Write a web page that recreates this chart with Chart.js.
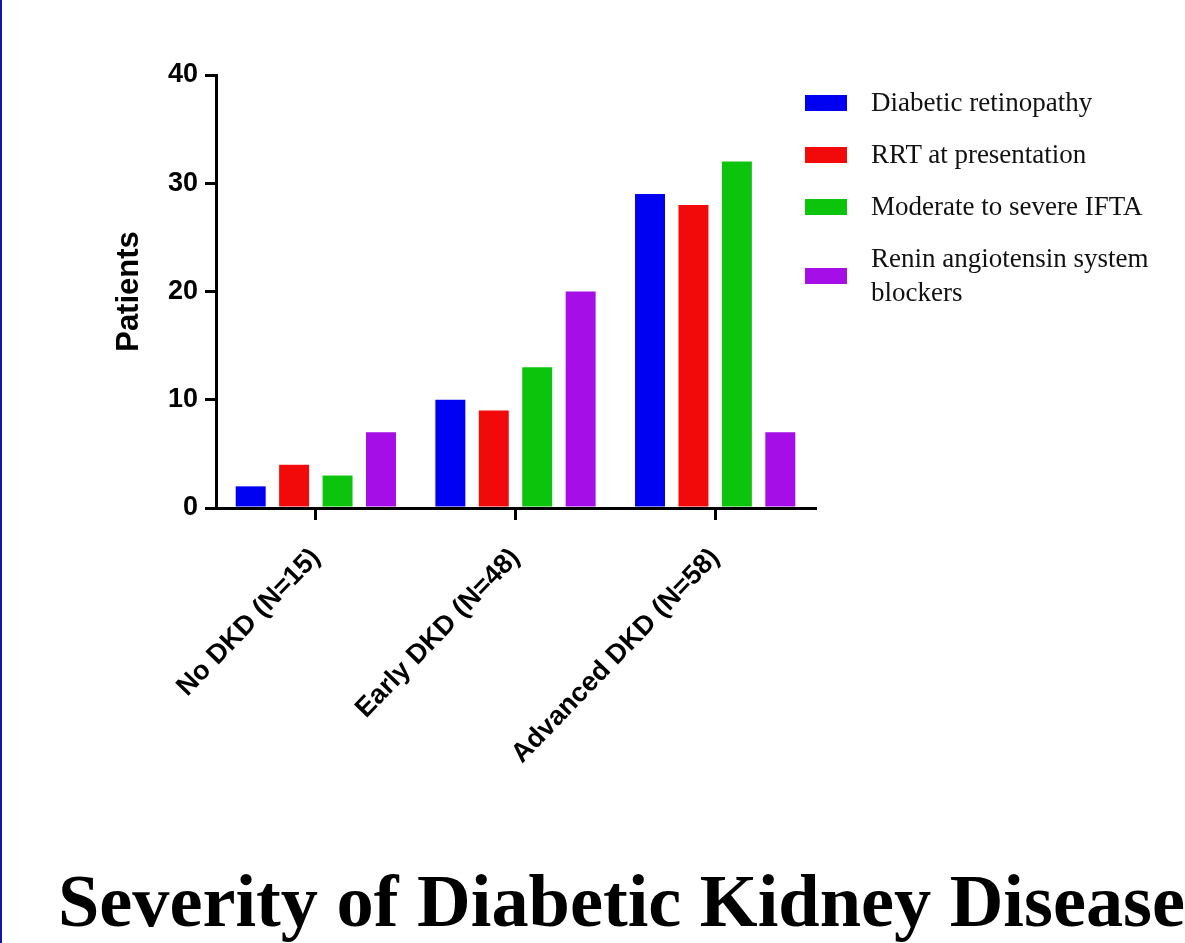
<!DOCTYPE html>
<html>
<head>
<meta charset="utf-8">
<script src="https://cdn.jsdelivr.net/npm/chart.js@4/dist/chart.umd.min.js"></script>
<style>
  html, body { margin: 0; padding: 0; background: #ffffff; }
  body { width: 1185px; height: 943px; position: relative; overflow: hidden; }
  #border { position: absolute; left: 0; top: 0; width: 2px; height: 943px; background: #1515a5; }
  #wrap { position: absolute; left: 0; top: 0; width: 1185px; height: 943px; }
  #legend { position: absolute; left: 805px; top: 92px; font-family: "Liberation Serif", "Times New Roman", serif; font-size: 27px; color: #111; }
  .item { position: relative; height: 52px; }
  .box { position: absolute; left: 0; width: 42px; height: 16px; }
  .lbl { position: absolute; left: 66px; white-space: nowrap; line-height: 34px; }
  #title { position: absolute; left: 58px; top: 861px; font-family: "Liberation Serif", "Times New Roman", serif; font-weight: bold; font-size: 75px; line-height: 80px; color: #000; white-space: nowrap; transform-origin: 0 0; }
</style>
</head>
<body>
<div id="wrap"><canvas id="c" width="1185" height="943"></canvas></div>
<div id="border"></div>
<div id="legend"></div>
<div id="title">Severity of Diabetic Kidney Disease</div>
<script>
const categories = ["No DKD (N=15)", "Early DKD (N=48)", "Advanced DKD (N=58)"];
const seriesNames = ["Diabetic retinopathy", "RRT at presentation", "Moderate to severe IFTA", ["Renin angiotensin system", "blockers"]];
const diabeticRetinopathy = [2, 10, 29];
const rrtAtPresentation = [4, 9, 28];
const moderateSevereIFTA = [3, 13, 32];
const rasBlockers = [7, 20, 7];
const yTicks = [0, 10, 20, 30, 40];
const colors = ["#0000f2", "#f20a0a", "#0cc40c", "#a50ee6"];

const seriesValues = [diabeticRetinopathy, rrtAtPresentation, moderateSevereIFTA, rasBlockers];

const datasets = seriesValues.map((vals, i) => ({
  label: Array.isArray(seriesNames[i]) ? seriesNames[i].join(' ') : seriesNames[i],
  data: vals,
  backgroundColor: colors[i],
  borderWidth: 0,
  barPercentage: 0.69,
  categoryPercentage: 0.87
}));

// HTML legend
const legend = document.getElementById('legend');
seriesNames.forEach((name, i) => {
  const item = document.createElement('div');
  item.className = 'item';
  const box = document.createElement('div');
  box.className = 'box';
  box.style.background = colors[i];
  const lbl = document.createElement('div');
  lbl.className = 'lbl';
  if (Array.isArray(name)) {
    lbl.innerHTML = name.join('<br>');
    lbl.style.top = '-7px';
    box.style.top = '20px';
    item.style.height = '80px';
  } else {
    lbl.textContent = name;
    lbl.style.top = '-7px';
    box.style.top = '3px';
  }
  item.appendChild(box);
  item.appendChild(lbl);
  legend.appendChild(item);
});

Chart.defaults.font.family = '"Liberation Sans", Arial, sans-serif';
Chart.defaults.color = '#000';

new Chart(document.getElementById('c'), {
  type: 'bar',
  data: { labels: categories, datasets: datasets },
  options: {
    responsive: false,
    animation: false,
    layout: { padding: { left: 111, top: 75, right: 370, bottom: 0 } },
    plugins: { legend: { display: false }, tooltip: { enabled: false }, title: { display: false } },
    scales: {
      x: {
        afterFit: (s) => { s.height = 435; },
        grid: { offset: false, drawOnChartArea: false, drawTicks: true, tickLength: 12, lineWidth: 3, color: '#000' },
        border: { display: true, color: '#000', width: 3 },
        ticks: { maxRotation: 46, minRotation: 46, padding: 22, font: { size: 27, weight: 'bold' }, color: '#000' }
      },
      y: {
        min: 0, max: 40,
        afterFit: (s) => { s.width = 105; },
        afterBuildTicks: (s) => { s.ticks = yTicks.map(v => ({ value: v })); },
        grid: { drawOnChartArea: false, drawTicks: true, tickLength: 11, lineWidth: 3, color: '#000' },
        border: { display: true, color: '#000', width: 3 },
        ticks: { padding: 7, font: { size: 27, weight: 'bold' }, color: '#000' },
        title: { display: true, text: 'Patients', font: { size: 31, weight: 'bold' }, color: '#000', padding: { top: 0, bottom: 4 } }
      }
    }
  }
});

// fit title width
const t = document.getElementById('title');
const w = t.getBoundingClientRect().width;
t.style.transform = 'scaleX(' + (1127 / w) + ')';
</script>
</body>
</html>
